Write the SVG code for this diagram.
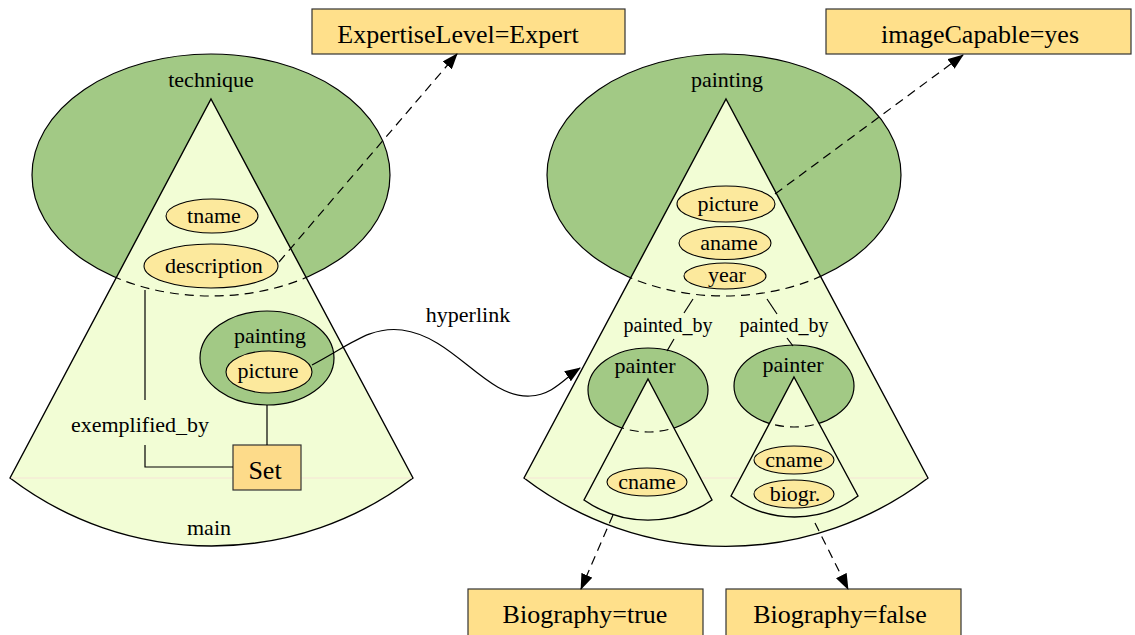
<svg xmlns="http://www.w3.org/2000/svg" width="1135" height="635" viewBox="0 0 1135 635">
<style>
text{font-family:"Liberation Serif","Times New Roman",serif;fill:#000;text-anchor:middle}
.t22{font-size:22px}
.t20{font-size:20px}
.t26{font-size:26px}
.ent{fill:#a2c985;stroke:#000;stroke-width:1.2}
.cone{fill:#f2fdd5;stroke:#000;stroke-width:1.4}
.dash{fill:none;stroke:#000;stroke-width:1.2;stroke-dasharray:9 6}
.attr{fill:#fce99d;stroke:#000;stroke-width:1.1}
.box{fill:#ffe08b;stroke:#333;stroke-width:1.2}
.set{fill:#fddb8a;stroke:#333;stroke-width:1.2}
.ln{fill:none;stroke:#000;stroke-width:1.2}
.faint{stroke:#f6e3d6;stroke-width:1}
</style>
<defs>
<marker id="ah" markerWidth="16" markerHeight="12" refX="15" refY="6" orient="auto" markerUnits="userSpaceOnUse">
<path d="M0,0 L16,6 L0,12 Z" fill="#000"/>
</marker>
<clipPath id="clipL"><path d="M211,99 L413,478 A332.5,332.5 0 0 1 10,478 Z"/></clipPath>
<clipPath id="clipR"><path d="M726,99 L928,478 A332.5,332.5 0 0 1 524,478 Z"/></clipPath>
<clipPath id="clipPL"><path d="M648,379 L712,500 A112,112 0 0 1 584,500 Z"/></clipPath>
<clipPath id="clipPR"><path d="M794,377 L858,496 A106.5,106.5 0 0 1 731,496 Z"/></clipPath>
</defs>
<rect width="1135" height="635" fill="#fff"/>

<g id="technique">
<ellipse class="ent" cx="211" cy="175" rx="179" ry="121"/>
<text class="t22" x="211" y="87">technique</text>
</g>
<g id="main">
<path class="cone" d="M211,99 L413,478 A332.5,332.5 0 0 1 10,478 Z"/>
<line class="faint" x1="11" y1="478" x2="412" y2="478"/>
<ellipse class="dash" cx="211" cy="175" rx="179" ry="121" clip-path="url(#clipL)"/>
<text class="t22" x="209" y="535">main</text>
</g>
<g id="tname">
<ellipse class="attr" cx="212" cy="216" rx="46" ry="17"/>
<text class="t22" x="214" y="223">tname</text>
</g>
<g id="description">
<ellipse class="attr" cx="211" cy="266" rx="67" ry="22"/>
<text class="t22" x="214" y="273">description</text>
</g>
<g id="painting-left">
<ellipse class="ent" cx="267" cy="358" rx="67" ry="47"/>
<text class="t22" x="270" y="343">painting</text>
<ellipse class="attr" cx="269" cy="372" rx="43" ry="21"/>
<text class="t22" x="268" y="378">picture</text>
</g>
<g id="set">
<rect class="set" x="233" y="445" width="68" height="45"/>
<text class="t26" x="265" y="479">Set</text>
</g>
<g id="exemplified_by">
<text class="t22" x="140" y="432">exemplified_by</text>
</g>

<g id="painting-right">
<ellipse class="ent" cx="724" cy="175" rx="177" ry="121"/>
<text class="t22" x="727" y="87">painting</text>
<path class="cone" d="M726,99 L928,478 A332.5,332.5 0 0 1 524,478 Z"/>
<line class="faint" x1="525" y1="478" x2="927" y2="478"/>
<ellipse class="dash" cx="724" cy="175" rx="177" ry="121" clip-path="url(#clipR)"/>
</g>
<g id="picture">
<ellipse class="attr" cx="726" cy="204" rx="49" ry="18"/>
<text class="t22" x="728" y="211">picture</text>
</g>
<g id="aname">
<ellipse class="attr" cx="725" cy="243" rx="46" ry="16.5"/>
<text class="t22" x="729" y="250">aname</text>
</g>
<g id="year">
<ellipse class="attr" cx="725" cy="276" rx="41" ry="13"/>
<text class="t22" x="727" y="282">year</text>
</g>
<g id="painter-left">
<ellipse class="ent" cx="648" cy="390" rx="60" ry="42"/>
<text class="t22" x="645" y="373">painter</text>
<path class="cone" d="M648,379 L712,500 A112,112 0 0 1 584,500 Z"/>
<ellipse class="dash" cx="648" cy="390" rx="60" ry="42" clip-path="url(#clipPL)"/>
<ellipse class="attr" cx="647" cy="482" rx="40" ry="14"/>
<text class="t22" x="647" y="489">cname</text>
</g>
<g id="painter-right">
<ellipse class="ent" cx="794" cy="386" rx="60" ry="41"/>
<text class="t22" x="793" y="372">painter</text>
<path class="cone" d="M794,377 L858,496 A106.5,106.5 0 0 1 731,496 Z"/>
<ellipse class="dash" cx="794" cy="386" rx="60" ry="41" clip-path="url(#clipPR)"/>
<ellipse class="attr" cx="794" cy="460" rx="40" ry="14"/>
<text class="t22" x="794" y="467">cname</text>
<ellipse class="attr" cx="794" cy="494" rx="40" ry="14"/>
<text class="t22" x="795" y="501">biogr.</text>
</g>
<g id="painted_by-labels">
<text class="t20" x="668" y="332">painted_by</text>
<text class="t20" x="784" y="332">painted_by</text>
</g>

<g id="expertise">
<rect class="box" x="312" y="9" width="313" height="45"/>
<text class="t26" x="458" y="43">ExpertiseLevel=Expert</text>
</g>
<g id="imagecapable">
<rect class="box" x="826" y="9" width="305" height="45"/>
<text class="t26" x="980" y="43">imageCapable=yes</text>
</g>
<g id="bio-true">
<rect class="box" x="468" y="589" width="235" height="50"/>
<text class="t26" x="585" y="623">Biography=true</text>
</g>
<g id="bio-false">
<rect class="box" x="726" y="589" width="235" height="50"/>
<text class="t26" x="840" y="623">Biography=false</text>
</g>

<g id="connectors">
<path class="ln" d="M145,290 V400"/>
<path class="ln" d="M145,445 V467 H233"/>
<path class="ln" d="M267,405 V445"/>
<path class="ln" d="M312,365 C350,345 370,326 402,330 C455,337 485,398 530,396 C553,395 565,378 580,368" marker-end="url(#ah)"/>
<text class="t22" x="468" y="322">hyperlink</text>
<line class="dash" x1="279" y1="262" x2="457" y2="54" marker-end="url(#ah)"/>
<line class="dash" x1="775" y1="194" x2="963" y2="55" marker-end="url(#ah)"/>
<line class="dash" x1="613" y1="515" x2="581" y2="589" marker-end="url(#ah)"/>
<line class="dash" x1="815" y1="523" x2="848" y2="589" marker-end="url(#ah)"/>
<line class="ln" x1="693" y1="299" x2="684" y2="313"/>
<line class="ln" x1="674" y1="339" x2="667" y2="351"/>
<line class="ln" x1="767" y1="299" x2="777" y2="314"/>
<line class="ln" x1="787" y1="338" x2="793" y2="346"/>
</g>
</svg>
